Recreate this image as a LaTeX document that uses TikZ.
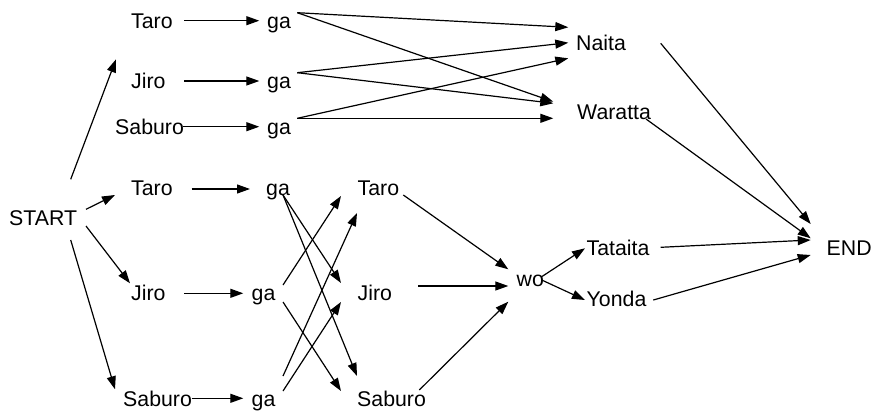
\documentclass[tikz,border=0pt]{standalone}
\usepackage{fontspec}
\setmainfont{Liberation Sans}
\usetikzlibrary{arrows.meta}
\tikzset{
  lbl/.style={anchor=base west, inner sep=0pt, font=\fontsize{21.3}{25}\selectfont},
  arr/.style={line width=1.2pt, -{Triangle[length=13pt,width=9pt]}},
}
\begin{document}
\begin{tikzpicture}[x=1pt,y=-1pt]
\useasboundingbox (0,0) rectangle (872,412);
% text nodes
\node[lbl] (taroA) at (131,28.3) {Taro};
\node[lbl] (gaA) at (267,28.3) {ga};
\node[lbl] (jiroA) at (131,88.3) {Jiro};
\node[lbl] (gaB) at (267,88.3) {ga};
\node[lbl] (saburoA) at (115,134) {Saburo};
\node[lbl] (gaC) at (267,134) {ga};
\node[lbl] (naita) at (576,50.7) {Naita};
\node[lbl] (waratta) at (577,119.3) {Waratta};
\node[lbl] (start) at (9,225) {START};
\node[lbl] (taroB) at (131,195) {Taro};
\node[lbl] (gaD) at (266,195) {ga};
\node[lbl] (taroC) at (357.5,195) {Taro};
\node[lbl] (jiroB) at (131,300.7) {Jiro};
\node[lbl] (gaE) at (251.5,300.7) {ga};
\node[lbl] (jiroC) at (357.5,300.7) {Jiro};
\node[lbl] (saburoB) at (123,406.7) {Saburo};
\node[lbl] (gaF) at (251.5,406.7) {ga};
\node[lbl] (saburoC) at (357,406.7) {Saburo};
\node[lbl] (wo) at (516.5,286.5) {wo};
\node[lbl] (tataita) at (586.5,255) {Tataita};
\node[lbl] (yonda) at (586.5,306.7) {Yonda};
\node[lbl] (end) at (826.5,255) {END};
% connector end points
\coordinate (s1a) at (70.7,179.3); \coordinate (s1b) at (116,59.3);
\coordinate (a1a) at (184,20.7);   \coordinate (a1b) at (259.3,20.7);
\coordinate (a2a) at (184,81);     \coordinate (a2b) at (259.3,81);
\coordinate (a3a) at (183.3,126.7);\coordinate (a3b) at (259.3,126.7);
\coordinate (g1) at (297.3,12.7);
\coordinate (g2) at (297.3,72.7);
\coordinate (g3) at (297.3,118.3);
\coordinate (n1) at (568.3,27.3);
\coordinate (n2) at (568.3,42.7);
\coordinate (n3) at (568.3,58.3);
\coordinate (w1) at (553.3,101.7);
\coordinate (w2) at (553.3,103.3);
\coordinate (w3) at (553.3,118.3);
\coordinate (ne) at (660.7,43.3);   \coordinate (e1) at (810.7,224);
\coordinate (we) at (646,119);      \coordinate (e2) at (810.7,238.3);
\coordinate (s2a) at (86,209.3);   \coordinate (s2b) at (115,195);
\coordinate (s3a) at (86,226);     \coordinate (s3b) at (130,283.3);
\coordinate (s4a) at (70.7,240);   \coordinate (s4b) at (115,389.3);
\coordinate (b1a) at (191.7,189);  \coordinate (b1b) at (250,189);
\coordinate (b2a) at (184,293.3);  \coordinate (b2b) at (243.3,293.3);
\coordinate (b3a) at (191.7,398.3);\coordinate (b3b) at (243.3,398.3);
\coordinate (d1) at (283,195);
\coordinate (d2) at (283,285);
\coordinate (d3) at (283,302);
\coordinate (d4) at (283,376);
\coordinate (d5) at (283,391);
\coordinate (t1) at (341,196);
\coordinate (t2) at (357,213);
\coordinate (j1) at (341,283);
\coordinate (j2) at (341,302);
\coordinate (u1) at (357,376);
\coordinate (u2) at (341,391);
\coordinate (tw) at (403.3,195);   \coordinate (o1) at (508.3,269.3);
\coordinate (jw) at (418.3,286);   \coordinate (o2) at (508.3,286);
\coordinate (uw) at (419.3,390);   \coordinate (o3) at (508.3,301.7);
\coordinate (wa) at (541.7,276.7); \coordinate (ta) at (585,248.3);
\coordinate (wb) at (541.7,280);   \coordinate (yo) at (585,300);
\coordinate (te) at (660.7,247.3); \coordinate (e3) at (810.7,240);
\coordinate (ye) at (653.3,300);   \coordinate (e4) at (810.7,255);
% connectors
\draw[arr] (s1a) -- (s1b);
\draw[arr] (a1a) -- (a1b);
\draw[arr] (a2a) -- (a2b);
\draw[arr] (a3a) -- (a3b);
\draw[arr] (g1) -- (n1);
\draw[arr] (g1) -- (w1);
\draw[arr] (g2) -- (n2);
\draw[arr] (g2) -- (w2);
\draw[arr] (g3) -- (n3);
\draw[arr] (g3) -- (w3);
\draw[arr] (ne) -- (e1);
\draw[arr] (we) -- (e2);
\draw[arr] (s2a) -- (s2b);
\draw[arr] (s3a) -- (s3b);
\draw[arr] (s4a) -- (s4b);
\draw[arr] (b1a) -- (b1b);
\draw[arr] (b2a) -- (b2b);
\draw[arr] (b3a) -- (b3b);
\draw[arr] (d1) -- (j1);
\draw[arr] (d1) -- (u1);
\draw[arr] (d2) -- (t1);
\draw[arr] (d3) -- (u2);
\draw[arr] (d4) -- (t2);
\draw[arr] (d5) -- (j2);
\draw[arr] (tw) -- (o1);
\draw[arr] (jw) -- (o2);
\draw[arr] (uw) -- (o3);
\draw[arr] (wa) -- (ta);
\draw[arr] (wb) -- (yo);
\draw[arr] (te) -- (e3);
\draw[arr] (ye) -- (e4);
\end{tikzpicture}
\end{document}
